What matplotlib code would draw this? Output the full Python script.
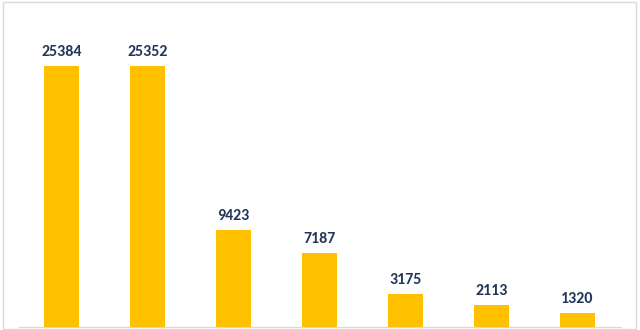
import matplotlib
matplotlib.use("Agg")
import matplotlib.pyplot as plt
from matplotlib.patches import Rectangle

categories = ["A", "B", "C", "D", "E", "F", "G"]
values = [25384, 25352, 9423, 7187, 3175, 2113, 1320]

W, H = 640, 330
fig = plt.figure(figsize=(W / 100, H / 100), dpi=100)
ax = fig.add_axes([18.5 / W, 3 / H, 602 / W, 325 / H])

x = list(range(len(categories)))
bars = ax.bar(x, values, width=0.41, color="#FFC000", zorder=2)
ax.set_xlim(-0.5, len(categories) - 0.5)
ax.set_ylim(0, 31600)

for xi, v in zip(x, values):
    ax.annotate(str(v), (xi, v), xytext=(0, 5), textcoords="offset points",
                ha="center", va="bottom", fontsize=11.5, fontweight="bold",
                color="#22375A", family=["Carlito", "Lato", "DejaVu Sans"])

for s in ["top", "left", "right"]:
    ax.spines[s].set_visible(False)
ax.spines["bottom"].set_color("#D9D9D9")
ax.set_xticks([])
ax.set_yticks([])

fig.patches.append(Rectangle((3 / W, 1 / H), 633 / W, 327 / H, transform=fig.transFigure,
                             fill=False, edgecolor="#D9D9D9", linewidth=1.0))

fig.savefig("out.png", dpi=100)
